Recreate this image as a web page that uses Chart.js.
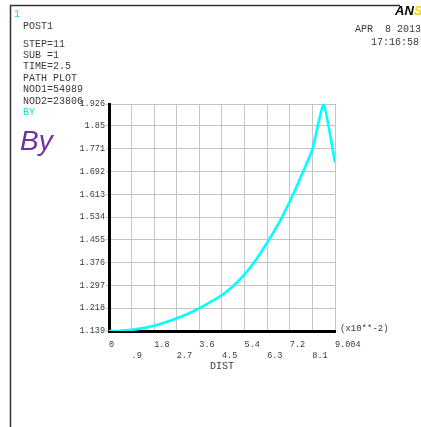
<!DOCTYPE html>
<html>
<head>
<meta charset="utf-8">
<script src="https://cdn.jsdelivr.net/npm/chart.js@4"></script>
<style>
    html, body { margin: 0; padding: 0; background: #fff; }
    #wrap { width: 421px; height: 427px; }
</style>
</head>
<body>
<div id="wrap"><canvas id="pathChart" width="421" height="427"></canvas></div>
<script>
// path plot data (DIST in x10**-2, BY)
const distValues = [0, 0.45, 0.9, 1.35, 1.8, 2.25, 2.7, 3.15, 3.6, 4.05, 4.5, 4.95, 5.4, 5.85, 6.3, 6.75, 7.2, 7.65, 8.1, 8.55, 9.004];
const byValues = [1.139, 1.140, 1.143, 1.149, 1.157, 1.169, 1.183, 1.199, 1.218, 1.240, 1.264, 1.295, 1.335, 1.385, 1.445, 1.510, 1.588, 1.675, 1.768, 1.926, 1.723];

// axis ticks as printed
const xTickValues = [0, 0.9, 1.8, 2.7, 3.6, 4.5, 5.4, 6.3, 7.2, 8.1, 9.004];
const xTickLabels = ['0', '.9', '1.8', '2.7', '3.6', '4.5', '5.4', '6.3', '7.2', '8.1', '9.004'];
const yTickValues = [1.139, 1.218, 1.297, 1.376, 1.455, 1.534, 1.613, 1.692, 1.771, 1.85, 1.926];
const yTickLabels = ['1.139', '1.218', '1.297', '1.376', '1.455', '1.534', '1.613', '1.692', '1.771', '1.85', '1.926'];

// header text block
const headerLines = ['STEP=11', 'SUB =1', 'TIME=2.5', 'PATH PLOT', 'NOD1=54989', 'NOD2=23806'];

const MONO = "'Liberation Mono', 'DejaVu Sans Mono', monospace";
const GRID_COLOR = '#c4c4c4';
const TEXT_COLOR = '#3a3a3a';

// draws the ANSYS style frame and the text around the plot
const frameTextPlugin = {
    id: 'frameText',
    afterDraw(chart) {
        const ctx = chart.ctx;
        const area = chart.chartArea;
        ctx.save();

        // frame
        ctx.strokeStyle = '#333';
        ctx.lineWidth = 1.5;
        ctx.beginPath();
        ctx.moveTo(10.5, 427);
        ctx.lineTo(10.5, 5.5);
        ctx.lineTo(400, 5.5);
        ctx.stroke();

        // logo
        ctx.font = "italic bold 13px 'Liberation Sans', sans-serif";
        ctx.textBaseline = 'alphabetic';
        ctx.textAlign = 'left';
        ctx.fillStyle = '#000';
        ctx.fillText('AN', 395, 15);
        ctx.fillStyle = '#f5d800';
        ctx.fillText('S', 395 + ctx.measureText('AN').width, 15);

        // header text
        ctx.font = '10px ' + MONO;
        ctx.textBaseline = 'middle';
        ctx.fillStyle = '#00e5e5';
        ctx.fillText('1', 14, 14);
        ctx.fillStyle = TEXT_COLOR;
        ctx.fillText('POST1', 23, 26);
        headerLines.forEach((line, i) => {
            ctx.fillText(line, 23, 44 + i * 11.4);
        });
        ctx.fillStyle = '#00e5e5';
        ctx.fillText('BY', 23, 112);

        ctx.fillStyle = TEXT_COLOR;
        ctx.textAlign = 'right';
        ctx.fillText('APR  8 2013', 421, 29);
        ctx.fillText('17:16:58', 419, 42);

        // big series label
        ctx.textAlign = 'left';
        ctx.textBaseline = 'alphabetic';
        ctx.font = "italic 28px 'Liberation Sans', Arial, sans-serif";
        ctx.fillStyle = '#7030a0';
        ctx.fillText('By', 20, 150);

        // x multiplier
        ctx.font = '9px ' + MONO;
        ctx.textBaseline = 'middle';
        ctx.fillStyle = TEXT_COLOR;
        ctx.fillText('(x10**-2)', area.right + 5, area.bottom - 2);

        ctx.restore();
    }
};

function initChart() {
    const canvas = document.getElementById('pathChart');
    const ctx = canvas.getContext('2d');

    const points = distValues.map((d, i) => ({ x: d, y: byValues[i] }));

    new Chart(ctx, {
        type: 'line',
        data: {
            datasets: [{
                label: 'BY',
                data: points,
                borderColor: '#00ffff',
                borderWidth: 2.6,
                pointRadius: 0,
                tension: 0.15,
                fill: false
            }]
        },
        options: {
            responsive: false,
            animation: false,
            devicePixelRatio: 1,
            layout: {
                padding: { top: 104, right: 86, bottom: 0, left: 0 }
            },
            plugins: {
                legend: { display: false },
                tooltip: { enabled: false }
            },
            scales: {
                x: {
                    type: 'linear',
                    min: 0,
                    max: 9.004,
                    afterFit: function(scale) { scale.height = 96; },
                    afterBuildTicks: function(scale) {
                        scale.ticks = xTickValues.map(v => ({ value: v }));
                    },
                    ticks: {
                        autoSkip: false,
                        maxRotation: 0,
                        align: 'start',
                        padding: 8,
                        color: TEXT_COLOR,
                        font: { family: MONO, size: 8.5, lineHeight: 1.3 },
                        callback: function(value, index) {
                            // labels alternate between two rows
                            const lab = xTickLabels[index];
                            return index % 2 === 0 ? [lab, ''] : ['', lab];
                        }
                    },
                    grid: {
                        color: GRID_COLOR,
                        lineWidth: 1,
                        drawTicks: false
                    },
                    border: { color: '#000', width: 3 },
                    title: {
                        display: true,
                        text: 'DIST',
                        color: TEXT_COLOR,
                        font: { family: MONO, size: 10, lineHeight: 1.2 },
                        padding: { top: 0, bottom: 55 }
                    }
                },
                y: {
                    type: 'linear',
                    min: 1.139,
                    max: 1.926,
                    afterFit: function(scale) { scale.width = 109; },
                    afterBuildTicks: function(scale) {
                        scale.ticks = yTickValues.map(v => ({ value: v }));
                    },
                    ticks: {
                        autoSkip: false,
                        padding: 1,
                        color: TEXT_COLOR,
                        font: { family: MONO, size: 8.5 },
                        callback: function(value, index) {
                            return yTickLabels[index];
                        }
                    },
                    grid: {
                        color: GRID_COLOR,
                        lineWidth: 1,
                        tickLength: 3
                    },
                    border: { color: '#000', width: 3 }
                }
            }
        },
        plugins: [frameTextPlugin]
    });
}

document.addEventListener('DOMContentLoaded', initChart);
</script>
</body>
</html>
